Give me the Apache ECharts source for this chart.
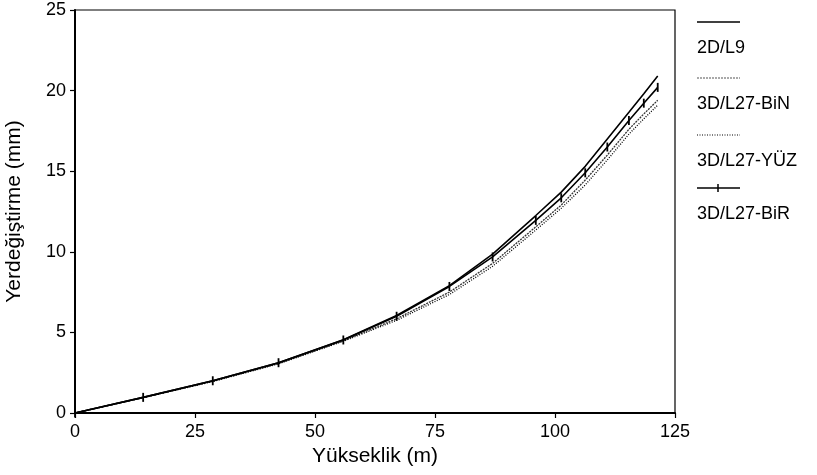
<!DOCTYPE html>
<html>
<head>
<meta charset="utf-8">
<script src="https://cdn.jsdelivr.net/npm/echarts@6/dist/echarts.min.js"></script>
<style>
  html, body { margin: 0; padding: 0; background: #fff; }
  #chart { width: 817px; height: 475px; }
</style>
</head>
<body>
<div id="chart"></div>
<script>
// Heights (m) at which displacement was computed
const heights = [0, 14.2, 28.7, 42.4, 55.9, 67, 78, 87, 96, 101.3, 106.3, 110.9, 115.4, 118.5, 121.4];

// Lateral displacement (mm) for each model
const disp2D_L9   = [0, 0.97, 2.0, 3.12, 4.55, 6.05, 7.9, 9.85, 12.25, 13.7, 15.3, 17.0, 18.65, 19.8, 20.9];
const disp3D_BiN  = [0, 0.96, 1.97, 3.07, 4.48, 5.85, 7.5, 9.28, 11.55, 12.9, 14.45, 16.0, 17.6, 18.55, 19.4];
const disp3D_YUZ  = [0, 0.95, 1.95, 3.05, 4.45, 5.75, 7.35, 9.1, 11.35, 12.7, 14.15, 15.7, 17.3, 18.25, 19.1];
const disp3D_BiR  = [0, 0.97, 2.0, 3.12, 4.53, 6.0, 7.85, 9.68, 11.95, 13.35, 14.9, 16.5, 18.15, 19.22, 20.2];

const seriesNames = ['2D/L9', '3D/L27-BiN', '3D/L27-YÜZ', '3D/L27-BiR'];

const FONT = 'Liberation Sans, Arial, Helvetica, sans-serif';

function pairs(ys) {
  return heights.map((h, i) => [h, ys[i]]);
}

const chart = echarts.init(document.getElementById('chart'), null, { renderer: 'canvas' });

// Legend: a sample line above each series name
const legendX = 697;
const legendRows = [
  { y: 22, dash: null, color: '#000', width: 1.3, marker: false },
  { y: 78, dash: [2, 1], color: '#555', width: 1.1, marker: false },
  { y: 135, dash: [1, 1.5], color: '#000', width: 1.2, marker: false },
  { y: 188, dash: null, color: '#000', width: 1.3, marker: true }
];
const legendGraphics = [];
legendRows.forEach((r, i) => {
  legendGraphics.push({
    type: 'line',
    shape: { x1: legendX, y1: r.y, x2: legendX + 43, y2: r.y },
    style: { stroke: r.color, lineWidth: r.width, lineDash: r.dash }
  });
  if (r.marker) {
    legendGraphics.push({
      type: 'line',
      shape: { x1: legendX + 21, y1: r.y - 4, x2: legendX + 21, y2: r.y + 4 },
      style: { stroke: '#000', lineWidth: 1.5 }
    });
  }
  legendGraphics.push({
    type: 'text',
    x: legendX,
    y: r.y + 26,
    style: {
      text: seriesNames[i],
      fill: '#000',
      font: '18px ' + FONT,
      textVerticalAlign: 'middle',
      verticalAlign: 'middle'
    }
  });
});

chart.setOption({
  animation: false,
  backgroundColor: '#fff',
  grid: {
    left: 75, right: 142, top: 10, bottom: 62,
    outerBoundsMode: 'none',
    containLabel: false,
    show: true, borderColor: '#000', borderWidth: 1.2,
    backgroundColor: 'transparent'
  },
  xAxis: {
    type: 'value', min: 0, max: 125, interval: 25,
    name: 'Yükseklik (m)', nameLocation: 'middle', nameGap: 33,
    nameTextStyle: { color: '#000', fontSize: 21, fontFamily: FONT },
    axisLine: { show: true, lineStyle: { color: '#000', width: 2 } },
    axisTick: { show: true, inside: false, length: 5, lineStyle: { color: '#000', width: 1.2 } },
    axisLabel: { color: '#000', fontSize: 18, fontFamily: FONT, margin: 10 },
    splitLine: { show: false }
  },
  yAxis: {
    type: 'value', min: 0, max: 25, interval: 5,
    name: 'Yerdeğiştirme (mm)', nameLocation: 'middle', nameGap: 50,
    nameTextStyle: { color: '#000', fontSize: 21, fontFamily: FONT },
    axisLine: { show: true, lineStyle: { color: '#000', width: 2 } },
    axisTick: { show: true, inside: false, length: 5, lineStyle: { color: '#000', width: 1.2 } },
    axisLabel: { color: '#000', fontSize: 18, fontFamily: FONT, margin: 9 },
    splitLine: { show: false }
  },
  series: [
    {
      name: seriesNames[0], type: 'line', data: pairs(disp2D_L9),
      showSymbol: false, symbol: 'none',
      lineStyle: { color: '#000', width: 1.6 }, z: 4
    },
    {
      name: seriesNames[1], type: 'line', data: pairs(disp3D_BiN),
      showSymbol: false, symbol: 'none',
      lineStyle: { color: '#333', width: 1.3, type: [2, 1] }, z: 2
    },
    {
      name: seriesNames[2], type: 'line', data: pairs(disp3D_YUZ),
      showSymbol: false, symbol: 'none',
      lineStyle: { color: '#000', width: 1.3, type: [1, 1.5] }, z: 2
    },
    {
      name: seriesNames[3], type: 'line', data: pairs(disp3D_BiR),
      symbol: 'rect', symbolSize: [1.8, 9], showSymbol: true,
      itemStyle: { color: '#000' },
      lineStyle: { color: '#000', width: 1.6 }, z: 3
    }
  ],
  graphic: legendGraphics
});
</script>
</body>
</html>
